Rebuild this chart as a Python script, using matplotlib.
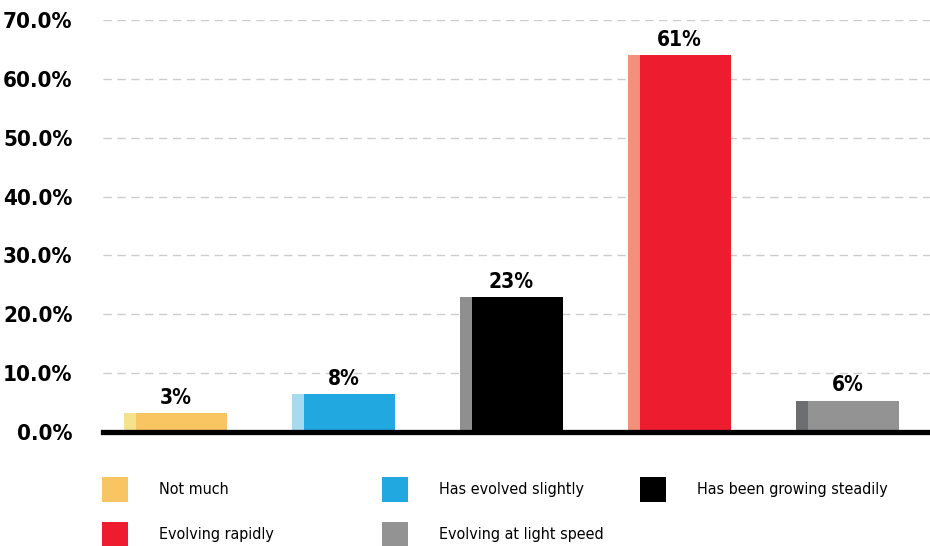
import matplotlib
matplotlib.use("Agg")
import matplotlib.pyplot as plt
from matplotlib.patches import Patch

categories = ["Not much", "Has evolved slightly", "Has been growing steadily",
              "Evolving rapidly", "Evolving at light speed"]
bar_heights = [3.2, 6.4, 22.9, 64.0, 5.3]
value_labels = ["3%", "8%", "23%", "61%", "6%"]
y_ticks = [0, 10, 20, 30, 40, 50, 60, 70]
main_colors = ["#F9C563", "#21A8E0", "#000000", "#ED1C2E", "#939393"]
side_colors = ["#F5E28D", "#A7DAEE", "#8F8F8F", "#F4907A", "#6D6E70"]

FONT = "DejaVu Sans"
STRETCH = "condensed"

fig = plt.figure(figsize=(9.30, 5.46), dpi=100)
ax = fig.add_axes([103/930, (546-432)/546, (930-103)/930, (432-20)/546])

full_w = 0.61
side_w = 0.071
xs = list(range(len(categories)))
for i, (h, mc, sc, lab) in enumerate(zip(bar_heights, main_colors, side_colors, value_labels)):
    left = xs[i] - full_w / 2
    ax.bar(left, h, width=side_w, align="edge", color=sc, zorder=3, linewidth=0)
    ax.bar(left + side_w, h, width=full_w - side_w, align="edge", color=mc, zorder=3, linewidth=0)
    ax.annotate(lab, (xs[i], h), xytext=(0, 4), textcoords="offset points",
                ha="center", va="bottom", fontsize=15, fontweight="bold",
                family=FONT, fontstretch=STRETCH, color="black")

ax.set_xlim(-0.43, 4.49)
ax.set_ylim(0, 70)
ax.set_yticks(y_ticks)
ax.set_yticklabels([f"{t:.1f}%" for t in y_ticks])
for t in ax.get_yticklabels():
    t.set_fontsize(16)
    t.set_fontweight("bold")
    t.set_family(FONT)
    t.set_fontstretch(STRETCH)
ax.tick_params(axis="y", length=0, pad=22)
ax.set_xticks([])
for s in ax.spines.values():
    s.set_visible(False)
for t in y_ticks[1:]:
    ax.axhline(t, color="#CDCDCD", linewidth=1, linestyle=(0, (6, 4)), zorder=1)
ax.axhline(0, color="black", linewidth=3.8, zorder=4, clip_on=False)

columns = [[0, 3], [1, 4], [2]]
col_x = [102, 382, 640]
for cx, idxs in zip(col_x, columns):
    handles = [Patch(facecolor=main_colors[k], edgecolor="none") for k in idxs]
    labels = [categories[k] for k in idxs]
    leg = fig.legend(handles, labels, loc="upper left",
                     bbox_to_anchor=(cx/930, (546-477)/546), frameon=False,
                     borderpad=0, borderaxespad=0, handlelength=1.65, handleheight=2.0,
                     handletextpad=1.9, labelspacing=1.25,
                     prop={"family": FONT, "size": 11.5, "stretch": STRETCH})

fig.savefig("out.png", dpi=100)
